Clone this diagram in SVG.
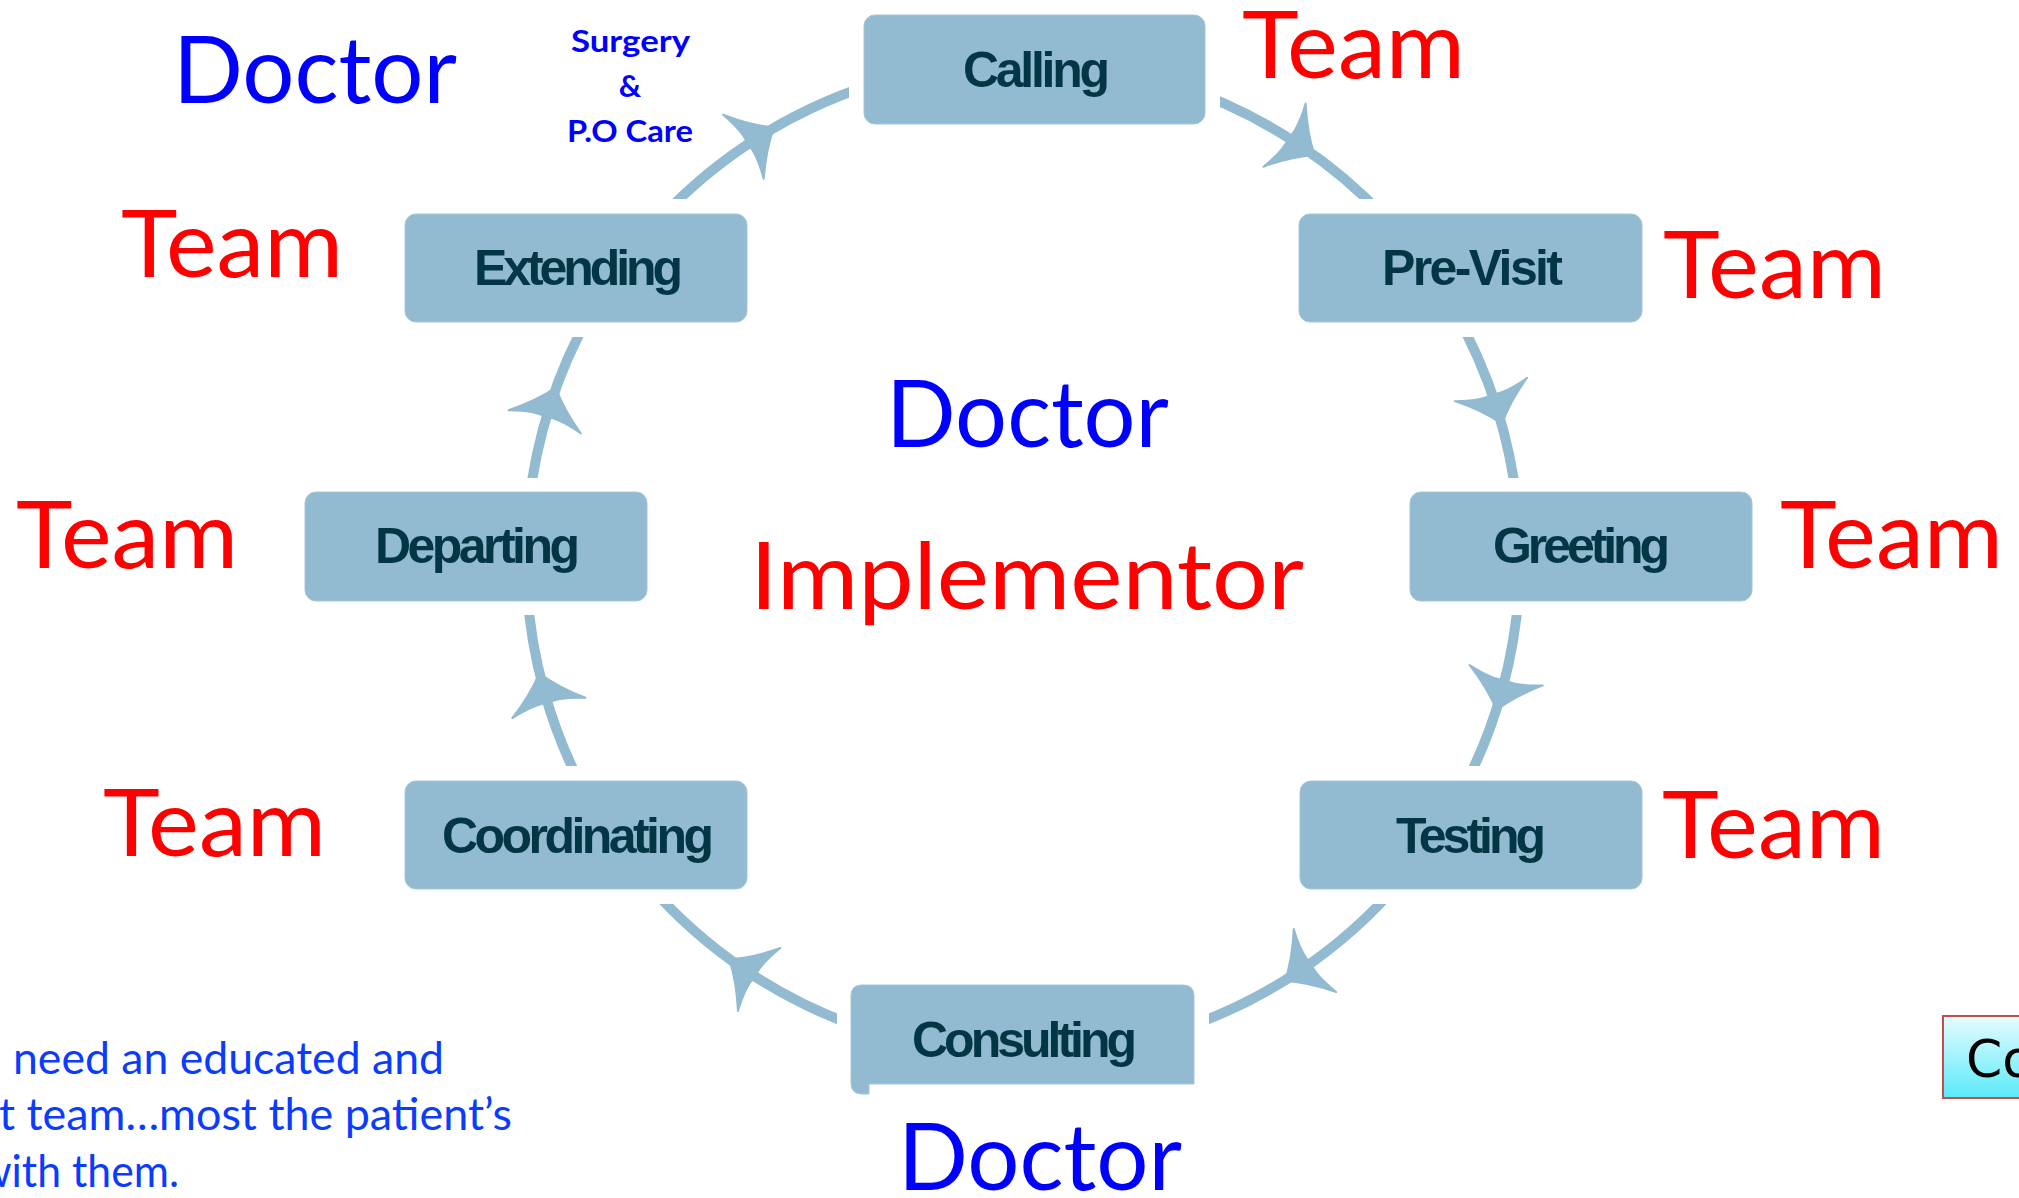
<svg xmlns="http://www.w3.org/2000/svg" width="2019" height="1198" viewBox="0 0 2019 1198">
<style>
.box{fill:#92BAD0;stroke:#A3C6D8;stroke-width:1}
.lbl{font-family:"Liberation Sans",Arial,sans-serif;font-weight:bold;font-size:50px;fill:#023644}
.conn{fill:none;stroke:#92BAD0;stroke-width:10;clip-path:url(#gap);marker-mid:url(#ah)}
.team{font-family:Lato,"Open Sans",sans-serif;font-size:93px;fill:#FF0000}
.doc{font-family:Lato,"Open Sans",sans-serif;font-size:93px;fill:#0000FF}
.note{font-family:Lato,"Open Sans",sans-serif;font-size:45px;fill:#0A3CFF}
.sub{font-family:Lato,"Open Sans",sans-serif;font-weight:bold;font-size:31px;fill:#0000FF}
</style>
<defs>
<clipPath id="gap" clipPathUnits="userSpaceOnUse">
<path clip-rule="evenodd" d="M0 0H2019V1198H0Z M849 0H1220V139H849Z M1284 199H1657V337H1284Z M1395 478H1766V615H1395Z M1284 766H1657V904H1284Z M837 970H1209V1107H837Z M389 766H762V904H389Z M289 478H661V615H289Z M389 199H762V337H389Z"/>
</clipPath>
<marker id="ah" markerUnits="userSpaceOnUse" orient="auto" refX="0" refY="0" markerWidth="100" markerHeight="100" overflow="visible">
<path d="M19 0 Q0 -15 -17 -38 Q-9 -12 -12 0 Q-9 12 -17 38 Q0 15 19 0 Z" fill="#92BAD0" stroke="#92BAD0" stroke-width="2" stroke-linejoin="round"/>
</marker>
<linearGradient id="cyan" x1="0" y1="0" x2="0" y2="1">
<stop offset="0" stop-color="#E6FCFF"/>
<stop offset="1" stop-color="#5AEAFA"/>
</linearGradient>
</defs>
<rect width="2019" height="1198" fill="#FFFFFF"/>

<g id="connectors">
<path class="conn" d="M1176.6 85.3 A497 497 0 0 1 1298.7 144.5 A497 497 0 0 1 1385.9 218.4"/>
<path class="conn" d="M1455.1 312.5 A497 497 0 0 1 1496.1 405.7 A497 497 0 0 1 1517.2 505.2"/>
<path class="conn" d="M1519.0 589.2 A497 497 0 0 1 1501.7 691.6 A497 497 0 0 1 1463.4 788.3"/>
<path class="conn" d="M1399.2 882.7 A497 497 0 0 1 1300.9 970.0 A497 497 0 0 1 1184.0 1028.2"/>
<path class="conn" d="M862.0 1028.2 A497 497 0 0 1 745.1 970.0 A497 497 0 0 1 646.8 882.7"/>
<path class="conn" d="M582.6 788.3 A497 497 0 0 1 544.3 691.6 A497 497 0 0 1 527.0 589.2"/>
<path class="conn" d="M528.8 505.2 A497 497 0 0 1 549.9 405.7 A497 497 0 0 1 590.9 312.5"/>
<path class="conn" d="M660.1 218.4 A497 497 0 0 1 757.8 137.7 A497 497 0 0 1 894.4 77.9"/>
</g>

<g id="node-calling">
<rect class="box" x="864" y="15" width="341" height="109" rx="11"/>
<text class="lbl" x="963" y="87" textLength="147">Calling</text>
</g>
<g id="node-previsit">
<rect class="box" x="1299" y="214" width="343" height="108" rx="11"/>
<text class="lbl" x="1382" y="285" textLength="181">Pre-Visit</text>
</g>
<g id="node-greeting">
<rect class="box" x="1410" y="492" width="342" height="109" rx="11"/>
<text class="lbl" x="1493" y="563" textLength="177">Greeting</text>
</g>
<g id="node-testing">
<rect class="box" x="1300" y="781" width="342" height="108" rx="11"/>
<text class="lbl" x="1396" y="853" textLength="150">Testing</text>
</g>
<g id="node-consulting">
<path class="box" d="M862 985 H1183 Q1194 985 1194 996 V1084 H869 V1094 H862 Q851 1094 851 1083 V996 Q851 985 862 985 Z"/>
<text class="lbl" x="912" y="1057" textLength="225">Consulting</text>
</g>
<g id="node-coordinating">
<rect class="box" x="405" y="781" width="342" height="108" rx="11"/>
<text class="lbl" x="442" y="853" textLength="272">Coordinating</text>
</g>
<g id="node-departing">
<rect class="box" x="305" y="492" width="342" height="109" rx="11"/>
<text class="lbl" x="375" y="563" textLength="205">Departing</text>
</g>
<g id="node-extending">
<rect class="box" x="405" y="214" width="342" height="108" rx="11"/>
<text class="lbl" x="474" y="285" textLength="209">Extending</text>
</g>

<g id="team-labels">
<text class="team" x="1242" y="78" textLength="223" lengthAdjust="spacingAndGlyphs">Team</text>
<text class="team" x="1663" y="298" textLength="223" lengthAdjust="spacingAndGlyphs">Team</text>
<text class="team" x="1780" y="568" textLength="223" lengthAdjust="spacingAndGlyphs">Team</text>
<text class="team" x="1662" y="858" textLength="223" lengthAdjust="spacingAndGlyphs">Team</text>
<text class="team" x="121" y="277" textLength="222" lengthAdjust="spacingAndGlyphs">Team</text>
<text class="team" x="16" y="568" textLength="222" lengthAdjust="spacingAndGlyphs">Team</text>
<text class="team" x="103" y="856" textLength="223" lengthAdjust="spacingAndGlyphs">Team</text>
</g>

<g id="doctor-labels">
<text class="doc" x="173" y="103" textLength="284" lengthAdjust="spacingAndGlyphs">Doctor</text>
<text class="doc" x="886" y="447" textLength="283" lengthAdjust="spacingAndGlyphs">Doctor</text>
<text class="team" x="750" y="609" textLength="554" lengthAdjust="spacingAndGlyphs">Implementor</text>
<text class="doc" x="898" y="1190" textLength="284" lengthAdjust="spacingAndGlyphs">Doctor</text>
</g>

<g id="surgery-note">
<text class="sub" x="571" y="52" textLength="119" lengthAdjust="spacingAndGlyphs">Surgery</text>
<text class="sub" x="630" y="97" text-anchor="middle">&amp;</text>
<text class="sub" x="567" y="142" textLength="126" lengthAdjust="spacingAndGlyphs">P.O Care</text>
</g>

<g id="bottom-note">
<text class="note" x="13" y="1074" textLength="431" lengthAdjust="spacingAndGlyphs">need an educated and</text>
<text class="note" x="-1" y="1130" textLength="513" lengthAdjust="spacingAndGlyphs">t team…most the patient’s</text>
<text class="note" x="-22" y="1187" textLength="201" lengthAdjust="spacingAndGlyphs">with them.</text>
</g>

<g id="co-button">
<rect x="1943" y="1016" width="90" height="82" fill="url(#cyan)" stroke="#C0504D" stroke-width="2"/>
<text x="1966" y="1077" font-family="'DejaVu Sans',sans-serif" font-size="52" fill="#000000">Co</text>
</g>
</svg>
